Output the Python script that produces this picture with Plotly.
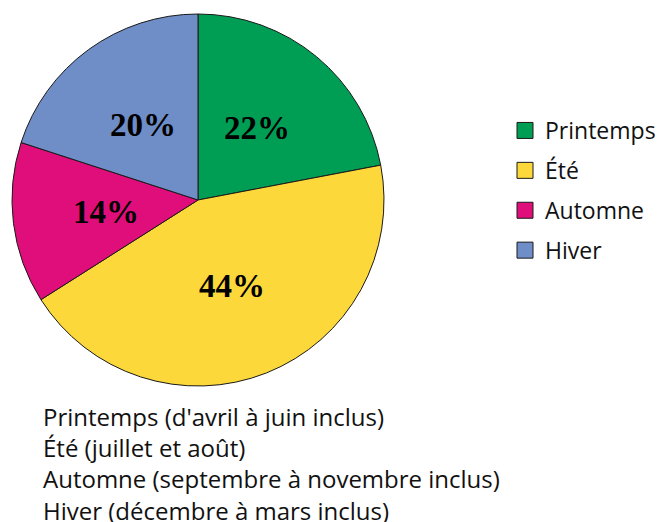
import math
import plotly.graph_objects as go

seasons = ["Printemps", "Été", "Automne", "Hiver"]
shares = [22, 44, 14, 20]
colors = ["#009E55", "#FDD83B", "#E00E7B", "#6F8DC6"]
notes = [
    "Printemps (d'avril à juin inclus)",
    "Été (juillet et août)",
    "Automne (septembre à novembre inclus)",
    "Hiver (décembre à mars inclus)",
]

W, H = 657, 522
# pie domain (pixels)
px0, px1 = 12, 384
py0, py1 = 14, 386
dom_x = [px0 / W, px1 / W]
dom_y = [1 - py1 / H, 1 - py0 / H]

fig = go.Figure()
fig.add_trace(go.Pie(
    labels=seasons, values=shares, sort=False, direction="clockwise",
    rotation=0, marker=dict(colors=colors, line=dict(color="#1a1a1a", width=1)),
    textinfo="none", showlegend=False, domain=dict(x=dom_x, y=dom_y),
    hoverinfo="label+percent",
))

# legend entries
for s, c in zip(seasons, colors):
    fig.add_trace(go.Scatter(
        x=[None], y=[None], mode="markers", name=s, legendgroup=s,
        marker=dict(symbol="square", size=16, color=c, line=dict(color="#1a1a1a", width=1)),
    ))

# percent labels along each slice's mid-angle
cx = (dom_x[0] + dom_x[1]) / 2
cy = (dom_y[0] + dom_y[1]) / 2
r_px = (px1 - px0) / 2
total = sum(shares)
acc = 0
for v in shares:
    mid = (acc + v / 2) / total * 2 * math.pi
    acc += v
    rr = 0.5 * r_px
    x = cx + rr * math.sin(mid) / W
    y = cy + rr * math.cos(mid) / H
    fig.add_annotation(x=x, y=y, xref="paper", yref="paper", showarrow=False,
                       xanchor="center", yanchor="middle",
                       text=f"<b>{v}%</b>",
                       font=dict(family="Liberation Serif", size=33, color="#000"))

fig.add_annotation(x=41 / W, y=1 - 398 / H, xref="paper", yref="paper",
                   xanchor="left", yanchor="top", align="left", showarrow=False,
                   text="<br>".join(notes),
                   font=dict(family="Open Sans", size=24, color="#111"))

fig.update_layout(
    width=W, height=H, margin=dict(l=0, r=0, t=0, b=0, autoexpand=False),
    paper_bgcolor="white", plot_bgcolor="white",
    xaxis=dict(visible=False), yaxis=dict(visible=False),
    legend=dict(x=505 / W, y=1 - 109 / H, xanchor="left", yanchor="top",
                font=dict(family="Open Sans", size=23, color="#111"),
                tracegroupgap=7, itemwidth=30, bgcolor="rgba(0,0,0,0)"),
)

fig.write_html("out.html", config={"displayModeBar": False},
               post_script="document.body.style.margin='0';")
